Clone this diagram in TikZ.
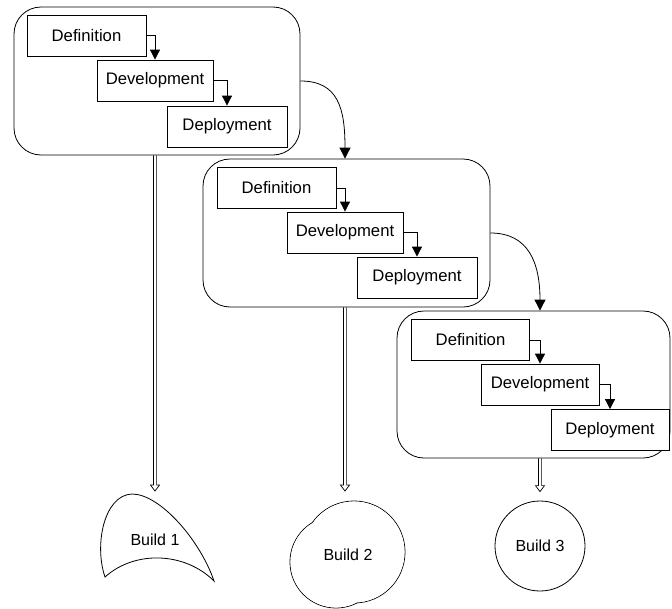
\documentclass[tikz,border=0pt]{standalone}
\usepackage{fontspec}
\setmainfont{Liberation Sans}
\usetikzlibrary{arrows.meta,calc}
\newcommand\hollowdown[2]{%
  \draw[line width=0.7pt] ($(#1)+(-1.6,0)$) -- ($(#2)+(-1.6,-6)$) -- ($(#2)+(-4.5,-6)$) -- (#2) -- ($(#2)+(4.5,-6)$) -- ($(#2)+(1.6,-6)$) -- ($(#1)+(1.6,0)$);}
\begin{document}
\begin{tikzpicture}[x=1pt,y=-1pt,
  lbl/.style={font=\fontsize{16}{19}\selectfont},
  plbl/.style={font=\fontsize{16.7}{19}\selectfont},
  phase/.style={draw, line width=0.8pt, inner sep=0pt, minimum height=41pt, fill=white, plbl},
  group/.style={draw, line width=0.8pt, rounded corners=27pt, inner sep=0pt},
  elbow/.style={draw, line width=0.8pt, -{Triangle[width=10pt,length=10pt]}},
  curvy/.style={draw, line width=0.8pt, -{Triangle[width=11pt,length=11pt]}},
  blob/.style={draw, line width=0.8pt}
]
\useasboundingbox (0,0) rectangle (672,608);

% group 1
\node[group, minimum width=286pt, minimum height=148pt] (g1) at (157,81) {};
\node[phase, minimum width=119pt] (def1) at (86.5,35.5) {Definition};
\node[phase, minimum width=116pt] (dev1) at (155,80.5) {Development};
\node[phase, minimum width=120pt] (dep1) at (227,126.5) {Deployment};
\draw[elbow] (def1.east) -| (dev1.north);
\draw[elbow] (dev1.east) -| (dep1.north);

% group 2
\node[group, minimum width=287pt, minimum height=148pt] (g2) at (346.5,233) {};
\node[phase, minimum width=119pt] (def2) at (276.5,188) {Definition};
\node[phase, minimum width=116pt] (dev2) at (345,232.5) {Development};
\node[phase, minimum width=120pt] (dep2) at (417,277.5) {Deployment};
\draw[elbow] (def2.east) -| (dev2.north);
\draw[elbow] (dev2.east) -| (dep2.north);

% group 3
\node[group, minimum width=273pt, minimum height=147pt] (g3) at (533.5,384.5) {};
\node[phase, minimum width=118pt] (def3) at (470.5,340) {Definition};
\node[phase, minimum width=118pt] (dev3) at (540,384.5) {Development};
\node[phase, minimum width=118pt] (dep3) at (610,430) {Deployment};
\draw[elbow] (def3.east) -| (dev3.north);
\draw[elbow] (dev3.east) -| (dep3.north);

% curved links between groups
\draw[curvy] (g1.east) .. controls +(38,0) and +(0,-50) .. (g2.north -| dev2.center);
\draw[curvy] (g2.east) .. controls +(38,0) and +(0,-48) .. (g3.north -| dev3.center);

% builds
\draw[blob] (105,577) .. controls (94,545) and (104,495) .. (132,494)
  .. controls (160,494) and (200,540) .. (214,581)
  .. controls (185,552) and (135,550) .. cycle;
\node[lbl] (b1) at (155,540) {Build 1};

\draw[blob] (354,552) circle[radius=51];
\draw[blob] (336,562) circle[radius=46];
\fill[white] (354,552) circle[radius=50.5];
\fill[white] (336,562) circle[radius=45.5];
\node[lbl] (b2) at (348,555) {Build 2};

\node[draw, line width=0.8pt, circle, minimum size=90pt, inner sep=0pt, lbl] (b3) at (540,546) {Build 3};

% hollow double arrows
\coordinate (s1) at (g1.south -| dev1.center);
\coordinate (t1) at ($(s1 |- b1)+(0,-49)$);
\coordinate (s2) at (g2.south -| dev2.center);
\coordinate (t2) at ($(s2 |- b2)+(0,-64)$);
\coordinate (s3) at (g3.south -| dev3.center);
\coordinate (t3) at ($(b3.north)+(0,-9)$);
\hollowdown{s1}{t1}
\hollowdown{s2}{t2}
\hollowdown{s3}{t3}
\end{tikzpicture}
\end{document}
